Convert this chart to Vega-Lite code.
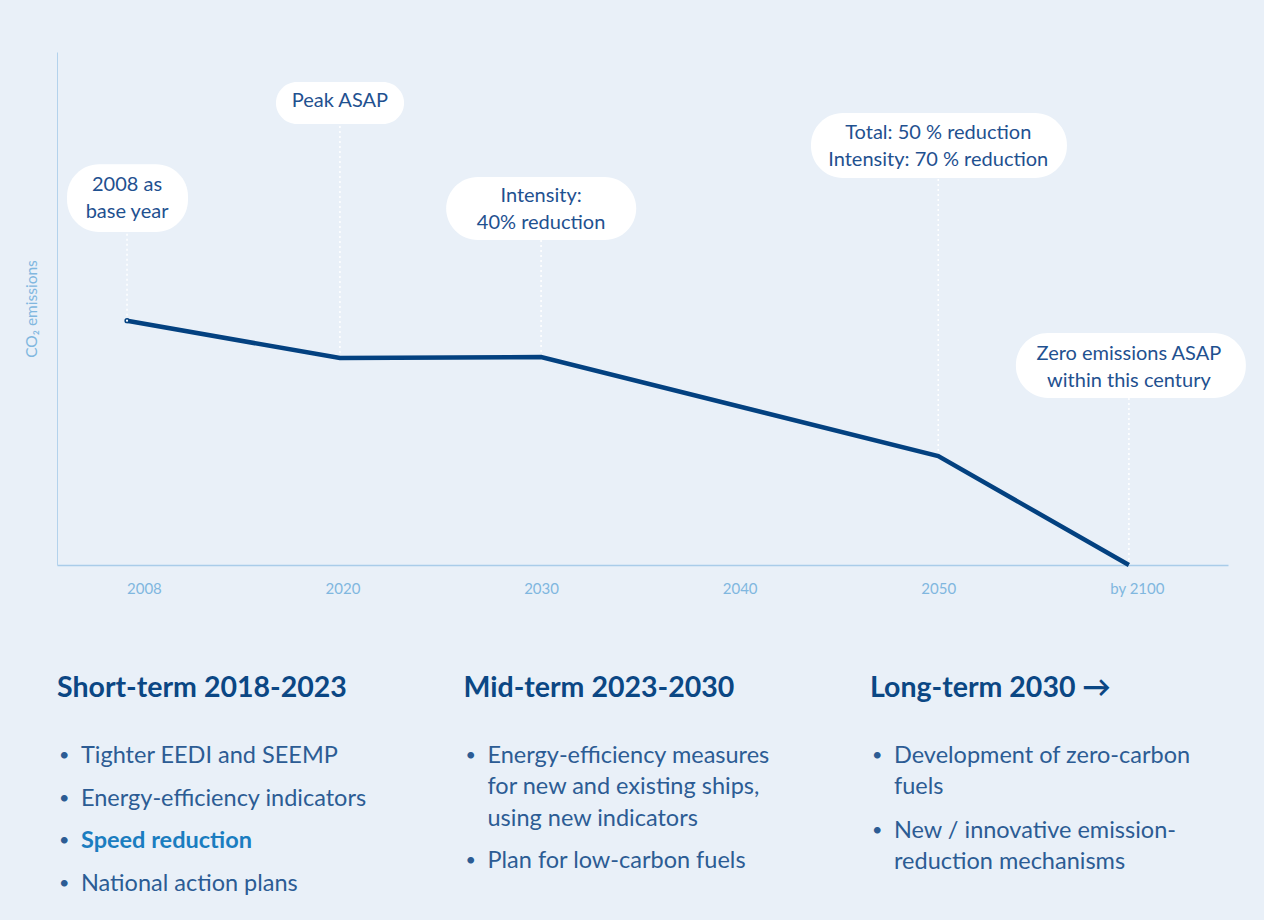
{
  "$schema": "https://vega.github.io/schema/vega-lite/v6.json",
  "width": 1171,
  "height": 513,
  "autosize": {"type": "none"},
  "padding": {"left": 57, "top": 52, "right": 36, "bottom": 355},
  "background": "#e9f0f8",
  "config": {"view": {"stroke": null}, "font": "Lato"},
  "datasets": {
    "emissions": [
      {"period": "2008", "t": -0.085, "co2": 100},
      {"period": "2020", "t": 0.987, "co2": 84.7},
      {"period": "2030", "t": 2.0, "co2": 85.1},
      {"period": "2050", "t": 4.0, "co2": 44.6},
      {"period": "by 2100", "t": 4.96, "co2": 0}
    ],
    "notes": [
      {"t": -0.085, "co2": 100, "label": "2008 as\nbase year", "yc": 155.5, "bx1": -0.387, "bx2": 0.222, "by1": 136.3, "by2": 164.1},
      {"t": 0.987, "co2": 84.7, "label": "Peak ASAP", "yc": 189.9, "bx1": 0.665, "bx2": 1.31, "by1": 180.5, "by2": 197.7},
      {"t": 2.0, "co2": 85.1, "label": "Intensity:\n40% reduction", "yc": 151.0, "bx1": 1.522, "bx2": 2.479, "by1": 133.0, "by2": 158.8},
      {"t": 4.0, "co2": 44.6, "label": "Total: 50 % reduction\nIntensity: 70 % reduction", "yc": 176.8, "bx1": 3.359, "bx2": 4.648, "by1": 158.4, "by2": 185.0},
      {"t": 4.96, "co2": 0, "label": "Zero emissions ASAP\nwithin this century", "yc": 86.4, "bx1": 4.391, "bx2": 5.549, "by1": 68.4, "by2": 95.0}
    ],
    "lists": [
      {"col": 0, "line": 0, "kind": "heading", "em": false, "text": "Short-term 2018-2023"},
      {"col": 0, "line": 2.19, "kind": "item", "em": false, "text": "Tighter EEDI and SEEMP"},
      {"col": 0, "line": 3.58, "kind": "item", "em": false, "text": "Energy-efficiency indicators"},
      {"col": 0, "line": 4.94, "kind": "item", "em": true, "text": "Speed reduction"},
      {"col": 0, "line": 6.32, "kind": "item", "em": false, "text": "National action plans"},
      {"col": 1, "line": 0, "kind": "heading", "em": false, "text": "Mid-term 2023-2030"},
      {"col": 1, "line": 2.19, "kind": "item", "em": false, "text": "Energy-efficiency measures"},
      {"col": 1, "line": 3.19, "kind": "cont", "em": false, "text": "for new and existing ships,"},
      {"col": 1, "line": 4.23, "kind": "cont", "em": false, "text": "using new indicators"},
      {"col": 1, "line": 5.58, "kind": "item", "em": false, "text": "Plan for low-carbon fuels"},
      {"col": 2, "line": 0, "kind": "heading", "em": false, "text": "Long-term 2030 →"},
      {"col": 2, "line": 2.19, "kind": "item", "em": false, "text": "Development of zero-carbon"},
      {"col": 2, "line": 3.19, "kind": "cont", "em": false, "text": "fuels"},
      {"col": 2, "line": 4.61, "kind": "item", "em": false, "text": "New / innovative emission-"},
      {"col": 2, "line": 5.61, "kind": "cont", "em": false, "text": "reduction mechanisms"}
    ]
  },
  "layer": [
    {
      "layer": [
        {
          "data": {"name": "notes"},
          "mark": {"type": "rule", "color": "#ffffff", "strokeDash": [2, 3], "strokeWidth": 1.5},
          "encoding": {
            "x": {"field": "t", "type": "quantitative", "scale": {"domain": [-0.4376, 5.459], "nice": false, "zero": false},
              "axis": {"title": null, "values": [0, 1, 2, 3, 4, 5], "labelExpr": "['2008','2020','2030','2040','2050','by 2100'][datum.value]", "ticks": false, "grid": false, "labelColor": "#80b7df", "labelFontSize": 15, "labelPadding": 16, "domainColor": "#a9cce9", "domainWidth": 1.5, "labelFont": "Lato"}},
            "y": {"field": "co2", "type": "quantitative", "scale": {"domain": [0, 210], "nice": false},
              "axis": {"title": "CO₂ emissions", "labels": false, "ticks": false, "grid": false, "domainColor": "#b3d2ec", "titleColor": "#80b7df", "titleFontSize": 15.5, "titleFontWeight": "normal", "titlePadding": 18, "titleFont": "Lato"}},
            "y2": {"field": "by1"}
          }
        },
        {
          "data": {"name": "notes"},
          "mark": {"type": "rect", "color": "#ffffff", "cornerRadius": 32},
          "encoding": {
            "x": {"field": "bx1", "type": "quantitative"},
            "x2": {"field": "bx2"},
            "y": {"field": "by1", "type": "quantitative"},
            "y2": {"field": "by2"}
          }
        },
        {
          "data": {"name": "notes"},
          "mark": {"type": "text", "color": "#1f5190", "fontSize": 20, "lineHeight": 27, "lineBreak": "\n", "align": "center", "baseline": "middle", "font": "Lato"},
          "encoding": {
            "x": {"field": "t", "type": "quantitative"},
            "y": {"field": "yc", "type": "quantitative"},
            "text": {"field": "label", "type": "nominal"}
          }
        },
        {
          "data": {"name": "emissions"},
          "mark": {"type": "line", "color": "#034180", "strokeWidth": 4.5, "strokeJoin": "miter"},
          "encoding": {
            "x": {"field": "t", "type": "quantitative"},
            "y": {"field": "co2", "type": "quantitative"}
          }
        },
        {
          "data": {"name": "emissions"},
          "transform": [{"filter": "datum.period === '2008'"}],
          "mark": {"type": "point", "filled": true, "fill": "#ffffff", "stroke": "#034180", "strokeWidth": 1.5, "size": 14, "opacity": 1},
          "encoding": {
            "x": {"field": "t", "type": "quantitative"},
            "y": {"field": "co2", "type": "quantitative"}
          }
        }
      ]
    },
    {
      "data": {"name": "lists"},
      "encoding": {
        "x": {"field": "col", "type": "quantitative", "scale": {"domain": [0, 2], "range": [0, 813], "nice": false, "zero": false}, "axis": null},
        "y": {"field": "line", "type": "quantitative", "scale": {"domain": [0, 10], "range": [636, 946], "nice": false, "zero": false}, "axis": null},
        "text": {"field": "text", "type": "nominal"}
      },
      "layer": [
        {
          "transform": [{"filter": "datum.kind === 'heading'"}],
          "mark": {"type": "text", "align": "left", "baseline": "middle", "fontSize": 28.5, "fontWeight": "bold", "color": "#0b4784", "font": "Lato"}
        },
        {
          "transform": [{"filter": "datum.kind !== 'heading' && !datum.em"}],
          "mark": {"type": "text", "align": "left", "baseline": "middle", "fontSize": 23.5, "color": "#2c5c94", "dx": 24, "font": "Lato"}
        },
        {
          "transform": [{"filter": "datum.em"}],
          "mark": {"type": "text", "align": "left", "baseline": "middle", "fontSize": 23.5, "fontWeight": "bold", "color": "#1a7dc0", "dx": 24, "font": "Lato"}
        },
        {
          "transform": [{"filter": "datum.kind === 'item'"}],
          "mark": {"type": "text", "align": "left", "baseline": "middle", "fontSize": 18, "color": "#2c5c94", "dx": 2, "font": "Lato"},
          "encoding": {"text": {"value": "•"}}
        }
      ]
    }
  ],
  "resolve": {"scale": {"x": "independent", "y": "independent"}}
}
